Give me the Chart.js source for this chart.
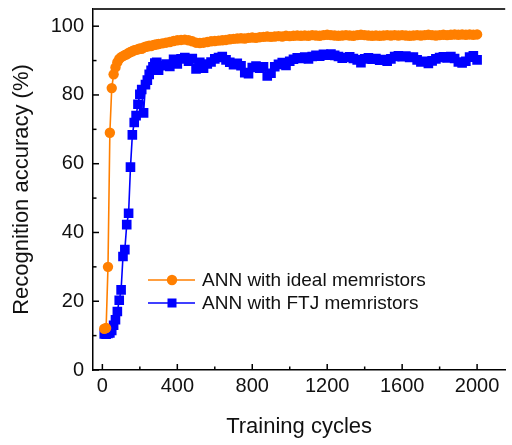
<!DOCTYPE html>
<html>
<head>
<meta charset="utf-8">
<script src="https://cdn.jsdelivr.net/npm/chart.js@4"></script>
<style>
  html, body { margin: 0; padding: 0; background: #fff; }
  #wrap { width: 512px; height: 445px; }
</style>
</head>
<body>
<div id="wrap"><canvas id="accChart" width="512" height="445"></canvas></div>
<script>
// training cycles at which accuracy was sampled
const cycles = [
    10, 20, 30, 40, 50, 60, 70, 80, 90, 100, 110, 120, 130, 140, 150,
    160, 170, 180, 190, 200, 210, 220, 230, 240, 250, 260, 270, 280, 290, 300,
    320, 340, 360, 380, 400, 420, 440, 460, 480, 500, 520, 540, 560, 580, 600,
    620, 640, 660, 680, 700, 720, 740, 760, 780, 800, 820, 840, 860, 880, 900,
    920, 940, 960, 980, 1000, 1020, 1040, 1060, 1080, 1100, 1120, 1140, 1160, 1180, 1200,
    1220, 1240, 1260, 1280, 1300, 1320, 1340, 1360, 1380, 1400, 1420, 1440, 1460, 1480, 1500,
    1520, 1540, 1560, 1580, 1600, 1620, 1640, 1660, 1680, 1700, 1720, 1740, 1760, 1780, 1800,
    1820, 1840, 1860, 1880, 1900, 1920, 1940, 1960, 1980, 2000
];

// ANN with ideal memristors (%)
const idealAcc = [
    12.0, 12.2, 30.0, 69.0, 82.0, 86.0, 88.0, 89.5, 90.5, 91.0, 91.3, 91.6, 91.8, 92.2, 92.5,
    92.7, 93.0, 93.1, 93.3, 93.5, 93.4, 93.8, 94.0, 94.1, 94.3, 94.2, 94.5, 94.6, 94.7, 94.8,
    95.0, 95.2, 95.4, 95.7, 95.9, 96.0, 96.1, 95.9, 95.6, 95.2, 95.1, 95.2, 95.4, 95.6, 95.7,
    95.8, 95.9, 96.0, 96.2, 96.3, 96.4, 96.5, 96.4, 96.6, 96.7, 96.6, 96.8, 96.9, 97.0, 96.9,
    97.0, 97.1, 97.0, 97.2, 97.1, 97.2, 97.3, 97.2, 97.3, 97.2, 97.4, 97.3, 97.2, 97.4, 97.5,
    97.4, 97.3, 97.2, 97.3, 97.4, 97.3, 97.2, 97.4, 97.5, 97.4, 97.3, 97.2, 97.3, 97.2, 97.3,
    97.4, 97.3, 97.4, 97.3, 97.4, 97.3, 97.2, 97.3, 97.4, 97.3, 97.4, 97.5, 97.4, 97.3, 97.4,
    97.5, 97.4, 97.5, 97.6, 97.5, 97.6, 97.5, 97.6, 97.5, 97.6
];

// ANN with FTJ memristors (%)
const ftjAcc = [
    10.5, 10.4, 10.6, 10.8, 11.5, 13.0, 14.6, 17.0, 20.3, 23.3, 33.0, 35.0, 42.3, 45.6, 59.0,
    68.4, 72.0, 74.0, 77.3, 80.2, 81.6, 74.8, 83.0, 84.3, 86.0, 87.2, 88.2, 89.3, 89.5, 87.2,
    88.5, 89.0, 88.3, 90.4, 89.0, 90.5, 90.9, 89.8, 90.6, 87.6, 89.5, 87.8, 89.0, 89.6, 90.5,
    90.9, 91.2, 90.2, 89.5, 88.8, 89.2, 88.5, 86.5, 86.2, 88.0, 88.4, 87.8, 88.2, 85.5, 86.3,
    88.2, 88.9, 89.4, 88.6, 89.8, 90.4, 90.8, 90.6, 91.0, 90.5, 91.2, 91.5, 91.3, 91.8, 91.6,
    91.9, 91.5, 91.2, 90.7, 90.9, 91.1, 90.6, 90.2, 89.4, 90.5, 90.8, 90.4, 90.6, 90.1, 90.3,
    89.8, 90.5, 91.2, 91.4, 91.1, 91.3, 90.9, 91.0, 90.2, 89.6, 89.8, 89.2, 89.9, 90.5, 90.9,
    91.1, 90.8, 91.2, 90.6, 89.6, 89.3, 89.8, 91.0, 91.4, 90.2
];

const seriesNames = ['ANN with ideal memristors', 'ANN with FTJ memristors'];
const xTickValues = [0, 200, 400, 600, 800, 1000, 1200, 1400, 1600, 1800, 2000];
const yTickValues = [0, 10, 20, 30, 40, 50, 60, 70, 80, 90, 100];

const FONT = "'Liberation Sans', Arial, sans-serif";
const ORANGE = '#ff7f00';
const BLUE = '#0000ff';

const toPoints = vals => vals.map((v, i) => ({ x: cycles[i], y: v }));

// inward tick marks, top frame line and the in-plot legend
const frameAndLegend = {
    id: 'frameAndLegend',
    afterDraw(chart) {
        const { ctx, chartArea: a, scales } = chart;
        ctx.save();
        ctx.strokeStyle = '#000';
        ctx.lineWidth = 1.5;
        scales.x.ticks.forEach(t => {
            const px = scales.x.getPixelForValue(t.value);
            const len = t.value % 400 === 0 ? 6 : 3.5;
            ctx.beginPath();
            ctx.moveTo(px, a.bottom);
            ctx.lineTo(px, a.bottom - len);
            ctx.stroke();
        });
        scales.y.ticks.forEach(t => {
            const py = scales.y.getPixelForValue(t.value);
            const len = t.value % 20 === 0 ? 6 : 3.5;
            ctx.beginPath();
            ctx.moveTo(a.left, py);
            ctx.lineTo(a.left + len, py);
            ctx.stroke();
        });
        // top frame
        ctx.strokeStyle = '#333';
        ctx.lineWidth = 2;
        ctx.beginPath();
        ctx.moveTo(a.left, a.top);
        ctx.lineTo(a.right, a.top);
        ctx.stroke();

        // legend
        const rows = [280, 303];
        chart.data.datasets.forEach((ds, i) => {
            const y = rows[i];
            ctx.strokeStyle = ds.borderColor;
            ctx.lineWidth = 1.5;
            ctx.beginPath();
            ctx.moveTo(148, y);
            ctx.lineTo(195, y);
            ctx.stroke();
            ctx.fillStyle = ds.backgroundColor;
            if (ds.pointStyle === 'rect') {
                ctx.fillRect(172 - 4.5, y - 4.5, 9, 9);
            } else {
                ctx.beginPath();
                ctx.arc(172, y, 5.2, 0, Math.PI * 2);
                ctx.fill();
            }
            ctx.fillStyle = '#111';
            ctx.font = '19px ' + FONT;
            ctx.textBaseline = 'middle';
            ctx.textAlign = 'left';
            ctx.fillText(ds.label, 202, y + 1);
        });
        ctx.restore();
    }
};

new Chart(document.getElementById('accChart'), {
    type: 'line',
    data: {
        datasets: [
            {
                label: seriesNames[0],
                data: toPoints(idealAcc),
                borderColor: ORANGE,
                backgroundColor: ORANGE,
                borderWidth: 1.6,
                pointStyle: 'circle',
                pointRadius: 5.2,
                pointBorderWidth: 0,
                tension: 0
            },
            {
                label: seriesNames[1],
                data: toPoints(ftjAcc),
                borderColor: BLUE,
                backgroundColor: BLUE,
                borderWidth: 1.6,
                pointStyle: 'rect',
                pointRadius: 6.8,
                pointBorderWidth: 0,
                tension: 0
            }
        ]
    },
    options: {
        responsive: false,
        animation: false,
        layout: { padding: { top: 9, left: 0, right: 0, bottom: 0 } },
        plugins: {
            legend: { display: false },
            tooltip: { enabled: false }
        },
        scales: {
            x: {
                type: 'linear',
                min: -50,
                max: 2150,
                afterBuildTicks: s => { s.ticks = xTickValues.map(v => ({ value: v })); },
                afterFit: s => { s.height = 75; s.paddingLeft = 0; s.paddingRight = 0; },
                ticks: {
                    autoSkip: false,
                    minRotation: 0,
                    maxRotation: 0,
                    padding: 4,
                    color: '#111',
                    font: { family: FONT, size: 20 },
                    callback: v => (v % 400 === 0 ? v : '')
                },
                grid: { display: false, drawTicks: false },
                border: { display: true, color: '#000', width: 1.5 },
                title: {
                    display: true,
                    text: 'Training cycles',
                    color: '#111',
                    font: { family: FONT, size: 22 },
                    padding: { top: 0, bottom: 5 }
                }
            },
            y: {
                min: 0,
                max: 105,
                afterBuildTicks: s => { s.ticks = yTickValues.map(v => ({ value: v })); },
                afterFit: s => { s.width = 93; s.paddingTop = 0; s.paddingBottom = 0; },
                ticks: {
                    autoSkip: false,
                    padding: 9,
                    color: '#111',
                    font: { family: FONT, size: 20 },
                    callback: v => (v % 20 === 0 ? v : '')
                },
                grid: { display: false, drawTicks: false },
                border: { display: true, color: '#000', width: 1.5 },
                title: {
                    display: true,
                    text: 'Recognition accuracy (%)',
                    color: '#111',
                    font: { family: FONT, size: 22 },
                    padding: { top: 9, bottom: 0 }
                }
            }
        }
    },
    plugins: [frameAndLegend]
});
</script>
</body>
</html>
